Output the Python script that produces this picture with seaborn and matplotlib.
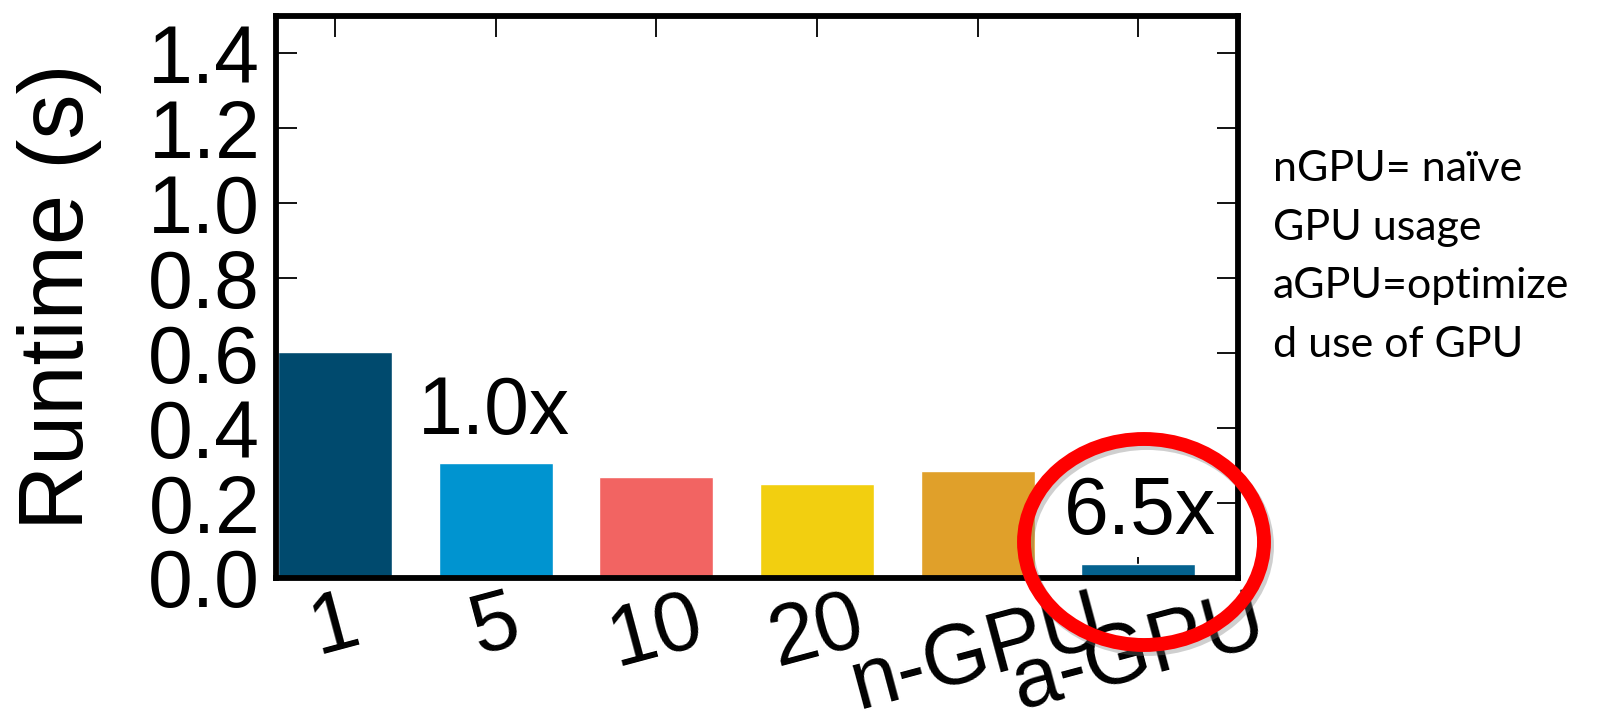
import matplotlib
matplotlib.use("Agg")
import matplotlib.pyplot as plt
import seaborn as sns
import pandas as pd
from matplotlib.patches import Ellipse

categories = ["1", "5", "10", "20", "n-GPU", "a-GPU"]
runtimes = [0.603, 0.307, 0.270, 0.250, 0.286, 0.037]
bar_colors = ["#004a6e", "#0094d0", "#f26462", "#f2cf10", "#e0a02a", "#04628f"]
y_ticks = [0.0, 0.2, 0.4, 0.6, 0.8, 1.0, 1.2, 1.4]
y_tick_labels = ["0.0", "0.2", "0.4", "0.6", "0.8", "1.0", "1.2", "1.4"]
speedup_labels = ["1.0x", "6.5x"]
note_lines = ["nGPU= naïve", "GPU usage", "aGPU=optimize", "d use of GPU"]

sns.set_style("white")
plt.rcParams["font.family"] = ["Liberation Sans", "DejaVu Sans"]
for k in ["text.color", "axes.labelcolor", "xtick.color", "ytick.color"]:
    plt.rcParams[k] = "black"

W, H = 1623, 728
fig = plt.figure(figsize=(W / 100, H / 100), dpi=100)
L, R, T, B = 275.5, 1238, 16, 578
ax = fig.add_axes([L / W, 1 - B / H, (R - L) / W, (B - T) / H])

df = pd.DataFrame({"cat": categories, "val": runtimes})
sns.barplot(data=df, x="cat", y="val", hue="cat", palette=bar_colors,
            legend=False, width=0.71, saturation=1, ax=ax, zorder=2)

ax.set_xlim(-0.37, 5.62)
ax.set_ylim(0, 1.5)
ax.set_yticks(y_ticks)
ax.set_yticklabels(y_tick_labels, fontsize=58)
ax.set_xticks(range(len(categories)))
ax.set_xticklabels(categories, fontsize=61, rotation=15, ha="center", va="top")
ax.tick_params(axis="both", direction="in", length=15, width=1.3,
               top=True, right=True, bottom=True, left=True, zorder=5)
ax.tick_params(axis="y", pad=11)
ax.tick_params(axis="x", pad=3)
for sp in ax.spines.values():
    sp.set_linewidth(4.2)
    sp.set_color("black")
    sp.set_zorder(6)
ax.set_xlabel("")
ax.set_ylabel("")

fig.text(60 / W, 1 - 297 / H, "Runtime (s)", fontsize=65, rotation=90,
         ha="center", va="center")

ax.text(0.99, 0.44, speedup_labels[0], fontsize=58, ha="center", va="center")
ax.text(5.01, 0.173, speedup_labels[1], fontsize=58, ha="center", va="center", zorder=8)

cx, cy, ew, eh = 1144, 542, 240, 206
fig.add_artist(Ellipse(((cx + 3) / W, 1 - (cy + 4) / H), ew / W, eh / H,
                       transform=fig.transFigure, fill=False, ec="#777777",
                       lw=10, alpha=0.35, zorder=9))
fig.add_artist(Ellipse((cx / W, 1 - cy / H), ew / W, eh / H,
                       transform=fig.transFigure, fill=False, ec="#ff0000",
                       lw=10, zorder=10))

baselines = [181, 240, 298, 357]
for line, yb in zip(note_lines, baselines):
    fig.text(1273 / W, 1 - yb / H, line, fontsize=31,
             family=["Lato", "DejaVu Sans"], ha="left", va="baseline")

fig.savefig("out.png", dpi=100)
